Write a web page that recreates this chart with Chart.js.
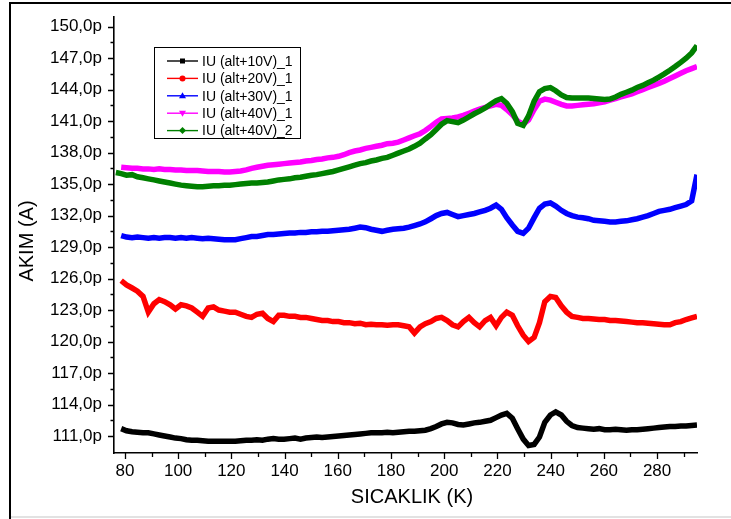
<!DOCTYPE html>
<html>
<head>
<meta charset="utf-8">
<script src="https://cdn.jsdelivr.net/npm/chart.js@4.4.1/dist/chart.umd.min.js"></script>
<style>
  html, body { margin: 0; padding: 0; background: #ffffff; }
  #wrap { width: 731px; height: 519px; position: relative; }
</style>
</head>
<body>
<div id="wrap"><canvas id="c" width="731" height="519"></canvas></div>
<script>
// Temperature (K) sample positions
const T = [76.6,78.6,80.6,82.7,84.7,86.8,88.8,90.9,92.9,94.9,97.0,99.0,101.1,103.1,105.1,107.2,109.2,111.3,113.3,115.3,117.4,119.4,121.5,123.5,125.6,127.6,129.6,131.7,133.7,135.8,137.8,139.8,141.9,143.9,146.0,148.0,150.1,152.1,154.1,156.2,158.2,160.3,162.3,164.3,166.4,168.4,170.5,172.5,174.5,176.6,178.6,180.7,182.7,184.8,186.8,188.8,190.9,192.9,195.0,197.0,199.0,201.1,203.1,205.2,207.2,209.3,211.3,213.3,215.4,217.4,219.5,221.5,223.5,225.6,227.6,229.7,231.7,233.8,235.8,237.8,239.9,241.9,244.0,246.0,248.0,250.1,252.1,254.2,256.2,258.2,260.3,262.3,264.4,266.4,268.5,270.5,272.5,274.6,276.6,278.7,280.7,282.7,284.8,286.8,288.9,290.9,293.0,295.0];

// Current (pA) series
const iu10_1 = [null,111.7,111.5,111.4,111.35,111.3,111.3,111.2,111.1,111.0,110.9,110.8,110.75,110.65,110.6,110.6,110.55,110.5,110.5,110.5,110.5,110.5,110.5,110.55,110.6,110.6,110.65,110.6,110.7,110.75,110.7,110.7,110.75,110.8,110.7,110.8,110.85,110.9,110.85,110.9,110.95,111.0,111.05,111.1,111.15,111.2,111.25,111.3,111.3,111.3,111.35,111.3,111.35,111.4,111.45,111.45,111.5,111.55,111.7,111.9,112.15,112.3,112.25,112.1,112.05,112.15,112.25,112.3,112.4,112.5,112.75,113.0,113.15,112.7,111.7,110.7,110.1,110.2,110.9,112.3,113.0,113.3,113.0,112.4,112.0,111.8,111.75,111.7,111.65,111.7,111.6,111.6,111.65,111.6,111.55,111.6,111.6,111.65,111.7,111.75,111.8,111.85,111.9,111.9,111.95,111.95,112.0,112.05];
const iu20_1 = [null,125.8,125.4,125.1,124.8,124.3,122.8,123.6,124.0,123.8,123.5,123.1,123.5,123.4,123.2,122.8,122.4,123.2,123.3,123.0,122.9,122.8,122.8,122.6,122.4,122.3,122.6,122.7,122.2,121.9,122.5,122.5,122.4,122.4,122.3,122.3,122.2,122.1,122.0,122.0,121.9,121.9,121.8,121.8,121.7,121.75,121.6,121.65,121.6,121.6,121.55,121.6,121.6,121.5,121.4,120.8,121.4,121.7,121.9,122.2,122.3,122.0,121.6,121.4,121.9,122.3,121.8,121.4,122.0,122.3,121.5,122.3,122.8,122.5,121.5,120.6,120.0,120.4,121.8,123.8,124.3,124.2,123.4,122.8,122.4,122.3,122.2,122.2,122.15,122.1,122.1,122.0,122.0,121.95,121.9,121.85,121.8,121.8,121.75,121.7,121.65,121.6,121.6,121.8,121.9,122.1,122.25,122.4];
const iu30_1 = [null,130.1,129.95,129.9,129.95,129.9,129.85,129.9,129.85,129.9,129.9,129.85,129.9,129.85,129.9,129.85,129.8,129.85,129.8,129.75,129.7,129.7,129.7,129.8,129.9,130.0,130.0,130.1,130.2,130.2,130.25,130.3,130.35,130.35,130.4,130.4,130.45,130.45,130.5,130.5,130.55,130.6,130.65,130.7,130.8,130.9,130.85,130.7,130.6,130.5,130.6,130.7,130.75,130.8,130.9,131.05,131.2,131.4,131.7,132.0,132.2,132.3,132.1,131.9,132.0,132.1,132.2,132.35,132.5,132.7,133.0,132.6,131.8,131.1,130.5,130.3,130.8,131.8,132.7,133.1,133.2,132.9,132.5,132.2,132.0,131.85,131.8,131.7,131.55,131.5,131.45,131.4,131.4,131.45,131.5,131.6,131.7,131.85,132.0,132.2,132.4,132.5,132.6,132.75,132.9,133.05,133.4,135.9];
const iu40_1 = [null,136.6,136.55,136.5,136.5,136.45,136.45,136.4,136.45,136.4,136.4,136.35,136.35,136.3,136.3,136.3,136.25,136.2,136.2,136.2,136.15,136.15,136.2,136.25,136.35,136.5,136.6,136.7,136.8,136.85,136.9,136.95,137.0,137.05,137.1,137.2,137.25,137.35,137.4,137.5,137.55,137.65,137.8,138.0,138.15,138.25,138.4,138.5,138.6,138.7,138.85,138.9,139.0,139.2,139.4,139.6,139.8,140.1,140.5,140.9,141.2,141.25,141.3,141.4,141.55,141.75,141.95,142.15,142.3,142.45,142.6,142.5,142.1,141.6,141.0,140.7,141.1,142.1,142.9,143.1,143.0,142.8,142.6,142.45,142.45,142.5,142.55,142.6,142.65,142.75,142.85,143.0,143.15,143.3,143.45,143.6,143.8,144.0,144.2,144.4,144.6,144.8,145.05,145.3,145.55,145.8,146.0,146.2];
const iu40_2 = [136.1,136.0,135.85,135.9,135.7,135.6,135.5,135.4,135.3,135.2,135.1,135.0,134.9,134.85,134.8,134.75,134.75,134.8,134.85,134.85,134.9,134.9,134.95,135.0,135.05,135.1,135.1,135.15,135.2,135.3,135.4,135.45,135.5,135.6,135.65,135.75,135.85,135.9,136.0,136.1,136.2,136.35,136.5,136.65,136.8,136.95,137.05,137.2,137.3,137.45,137.55,137.75,137.95,138.15,138.35,138.6,138.9,139.3,139.7,140.2,140.7,141.05,140.95,140.85,141.1,141.4,141.7,141.95,142.25,142.6,142.95,143.15,142.7,141.9,140.8,140.6,141.5,142.9,143.8,144.1,144.2,143.9,143.5,143.25,143.2,143.2,143.2,143.2,143.15,143.1,143.05,143.1,143.3,143.55,143.75,143.95,144.2,144.4,144.65,144.9,145.2,145.5,145.85,146.2,146.6,147.0,147.5,148.2];

const seriesNames = ['IU (alt+10V)_1','IU (alt+20V)_1','IU (alt+30V)_1','IU (alt+40V)_1','IU (alt+40V)_2'];
const seriesColors = ['#000000','#ff0000','#0000ff','#ff00ff','#008000'];
const seriesMarkers = ['square','circle','triUp','triDown','diamond'];
const seriesValues = [iu10_1, iu20_1, iu30_1, iu40_1, iu40_2];

const yMajorTicks = [111,114,117,120,123,126,129,132,135,138,141,144,147,150];
const xMajorTicks = [80,100,120,140,160,180,200,220,240,260,280];
const xMinorTicks = [90,110,130,150,170,190,210,230,250,270,290];
const yMinorTicks = [112.5,115.5,118.5,121.5,124.5,127.5,130.5,133.5,136.5,139.5,142.5,145.5,148.5];

const datasets = seriesValues.map((vals, i) => ({
  label: seriesNames[i],
  data: T.map((x, k) => ({ x: x, y: vals[k] })).filter(p => p.y !== null),
  borderColor: seriesColors[i],
  backgroundColor: seriesColors[i],
  borderWidth: 5.5,
  pointRadius: 0,
  tension: 0,
  fill: false,
  order: seriesValues.length - i
}));

function drawMarker(ctx, kind, cx, cy, color) {
  ctx.save();
  ctx.fillStyle = color;
  ctx.beginPath();
  if (kind === 'square') { ctx.rect(cx - 2.5, cy - 2.5, 5, 5); }
  else if (kind === 'circle') { ctx.arc(cx, cy, 3, 0, Math.PI * 2); }
  else if (kind === 'triUp') { ctx.moveTo(cx, cy - 3.5); ctx.lineTo(cx - 3.5, cy + 2.5); ctx.lineTo(cx + 3.5, cy + 2.5); ctx.closePath(); }
  else if (kind === 'triDown') { ctx.moveTo(cx, cy + 3.5); ctx.lineTo(cx - 3.5, cy - 2.5); ctx.lineTo(cx + 3.5, cy - 2.5); ctx.closePath(); }
  else { ctx.moveTo(cx, cy - 3.5); ctx.lineTo(cx + 3.5, cy); ctx.lineTo(cx, cy + 3.5); ctx.lineTo(cx - 3.5, cy); ctx.closePath(); }
  ctx.fill();
  ctx.restore();
}

const decor = {
  id: 'decor',
  afterDraw(chart) {
    const ctx = chart.ctx;
    const xs = chart.scales.x, ys = chart.scales.y;
    const ca = chart.chartArea;
    ctx.save();
    // outer frame (top and left)
    ctx.fillStyle = '#000';
    ctx.fillRect(9, 2, 722, 2);
    ctx.fillRect(9, 2, 2, 517);
    ctx.fillStyle = '#e2e2e2';
    ctx.fillRect(11, 516, 720, 2);
    // tick marks
    ctx.strokeStyle = '#000';
    ctx.lineWidth = 1.3;
    ctx.beginPath();
    yMajorTicks.forEach(v => { const y = Math.round(ys.getPixelForValue(v)) + 0.5; ctx.moveTo(ca.left - 6, y); ctx.lineTo(ca.left, y); });
    yMinorTicks.forEach(v => { const y = Math.round(ys.getPixelForValue(v)) + 0.5; ctx.moveTo(ca.left - 3.5, y); ctx.lineTo(ca.left, y); });
    xMajorTicks.forEach(v => { const x = Math.round(xs.getPixelForValue(v)) + 0.5; ctx.moveTo(x, ca.bottom); ctx.lineTo(x, ca.bottom + 6); });
    xMinorTicks.forEach(v => { const x = Math.round(xs.getPixelForValue(v)) + 0.5; ctx.moveTo(x, ca.bottom); ctx.lineTo(x, ca.bottom + 4); });
    ctx.stroke();
    // axis titles
    ctx.fillStyle = '#000';
    ctx.font = '20px "Liberation Sans", Arial, sans-serif';
    ctx.textAlign = 'center';
    ctx.textBaseline = 'middle';
    ctx.fillText('SICAKLIK (K)', 412, 497);
    ctx.save();
    ctx.translate(27, 241);
    ctx.rotate(-Math.PI / 2);
    ctx.fillText('AKIM (A)', 0, 0);
    ctx.restore();
    // legend
    ctx.fillStyle = '#fff';
    ctx.fillRect(154, 47, 146, 91);
    ctx.strokeStyle = '#000';
    ctx.lineWidth = 1;
    ctx.strokeRect(154.5, 47.5, 146, 91);
    ctx.font = '14px "Liberation Sans", Arial, sans-serif';
    ctx.textAlign = 'left';
    seriesNames.forEach((name, i) => {
      const cy = 61 + i * 17.4;
      ctx.strokeStyle = seriesColors[i];
      ctx.lineWidth = 1.4;
      ctx.beginPath();
      ctx.moveTo(167, cy); ctx.lineTo(198, cy);
      ctx.stroke();
      drawMarker(ctx, seriesMarkers[i], 182.5, cy, seriesColors[i]);
      ctx.fillStyle = '#000';
      ctx.fillText(name, 202, cy + 1);
    });
    ctx.restore();
  }
};

new Chart(document.getElementById('c'), {
  type: 'line',
  data: { datasets: datasets },
  options: {
    responsive: false,
    animation: false,
    events: [],
    layout: { padding: { left: 0, top: 17, right: 34, bottom: 0 } },
    plugins: { legend: { display: false }, tooltip: { enabled: false } },
    scales: {
      x: {
        type: 'linear',
        min: 75.9,
        max: 295.0,
        afterFit(s) { s.height = 66; },
        afterBuildTicks(s) { s.ticks = xMajorTicks.map(v => ({ value: v })); },
        grid: { drawOnChartArea: false, drawTicks: true, tickLength: 6, color: 'rgba(0,0,0,0)' },
        border: { display: true, color: '#000', width: 1.6 },
        ticks: {
          color: '#000',
          padding: 2,
          maxRotation: 0,
          autoSkip: false,
          font: { family: '"Liberation Sans", Arial, sans-serif', size: 17 },
          callback: v => String(v)
        }
      },
      y: {
        type: 'linear',
        min: 109.38,
        max: 150.92,
        afterFit(s) { s.width = 114; },
        afterBuildTicks(s) { s.ticks = yMajorTicks.map(v => ({ value: v })); },
        grid: { drawOnChartArea: false, drawTicks: true, tickLength: 6, color: 'rgba(0,0,0,0)' },
        border: { display: true, color: '#000', width: 1.6 },
        ticks: {
          color: '#000',
          padding: 6,
          autoSkip: false,
          font: { family: '"Liberation Sans", Arial, sans-serif', size: 17 },
          callback: v => v.toFixed(1).replace('.', ',') + 'p'
        }
      }
    }
  },
  plugins: [decor]
});
</script>
</body>
</html>
